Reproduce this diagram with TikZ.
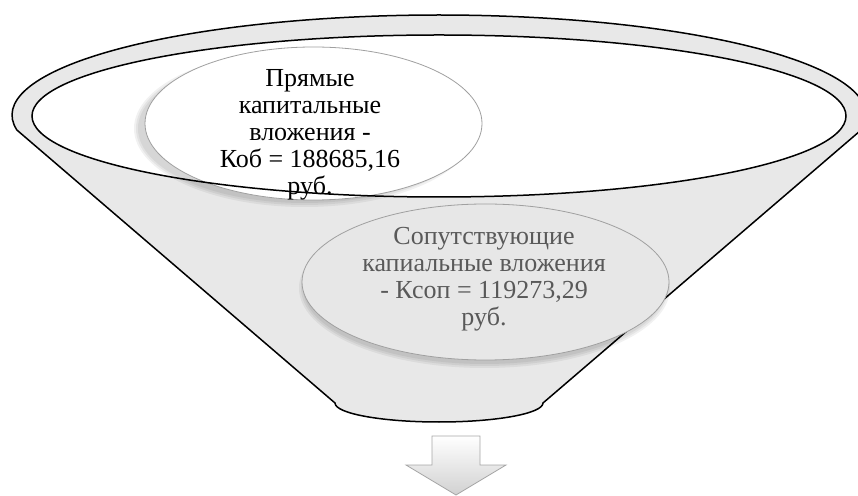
\documentclass[tikz,border=0pt]{standalone}
\usepackage{fontspec}
\setmainfont{Liberation Serif}
\usetikzlibrary{shapes.geometric}
\definecolor{funnelgray}{RGB}{232,232,232}
\definecolor{bubblegray}{RGB}{231,231,231}
\definecolor{edgegray}{RGB}{160,160,160}
\definecolor{txtgray}{RGB}{89,89,89}
\begin{document}
\begin{tikzpicture}[x=1pt,y=1pt,
  funnelline/.style={draw=black,line width=1.5pt},
  bubble/.style={ellipse,inner sep=0pt,draw=edgegray,line width=0.8pt},
  softshadow/.style={fill=black,fill opacity=0.055},
  bubbletext/.style={align=center,font=\fontsize{26}{27}\selectfont,inner sep=0pt},
  arrowshape/.style={draw=black!35,line width=0.8pt,top color=white,bottom color=black!18}]
\useasboundingbox (0,0) rectangle (858,495);
\clip (0,0) rectangle (858,495);
% funnel body with rim
\path[funnelline,fill=funnelgray] (439,380) ++(-8.63:427 and 100)
  arc[start angle=-8.63,end angle=188.63,x radius=427,y radius=100]
  -- (335,92) arc[start angle=180,end angle=360,x radius=104,y radius=19] -- cycle;
% inner opening
\fill[white] (439,379) ellipse[x radius=407,y radius=81];
% first bubble shadow
\foreach \d in {2,0,-2}
  \fill[softshadow] (304.5,366.5) ellipse[x radius=168.5+\d,y radius=76.5+\d];
\node[bubble,fill=white,minimum width=337pt,minimum height=153pt]
  (direct) at (313.5,371.5) {};
\draw[funnelline] (439,379) ellipse[x radius=407,y radius=81];
% second bubble shadow
\foreach \d in {2,0,-2}
  \fill[softshadow] (484.5,207) ellipse[x radius=183.5+\d,y radius=78+\d];
\node[bubble,fill=bubblegray,minimum width=367pt,minimum height=156pt]
  (related) at (485.5,213) {};
\node[bubbletext,text=black] (directtext) at (310,360)
  {Прямые\\капитальные\\вложения -\\Коб = 188685,16\\руб.};
\node[bubbletext,text=txtgray] (relatedtext) at (484,216)
  {Сопутствующие\\капиальные вложения\\- Ксоп = 119273,29\\руб.};
% down arrow
\path[arrowshape] (432,59) -- (480,59) -- (480,30) -- (506,30) -- (456,0)
  -- (406,30) -- (432,30) -- cycle;
\end{tikzpicture}
\end{document}
